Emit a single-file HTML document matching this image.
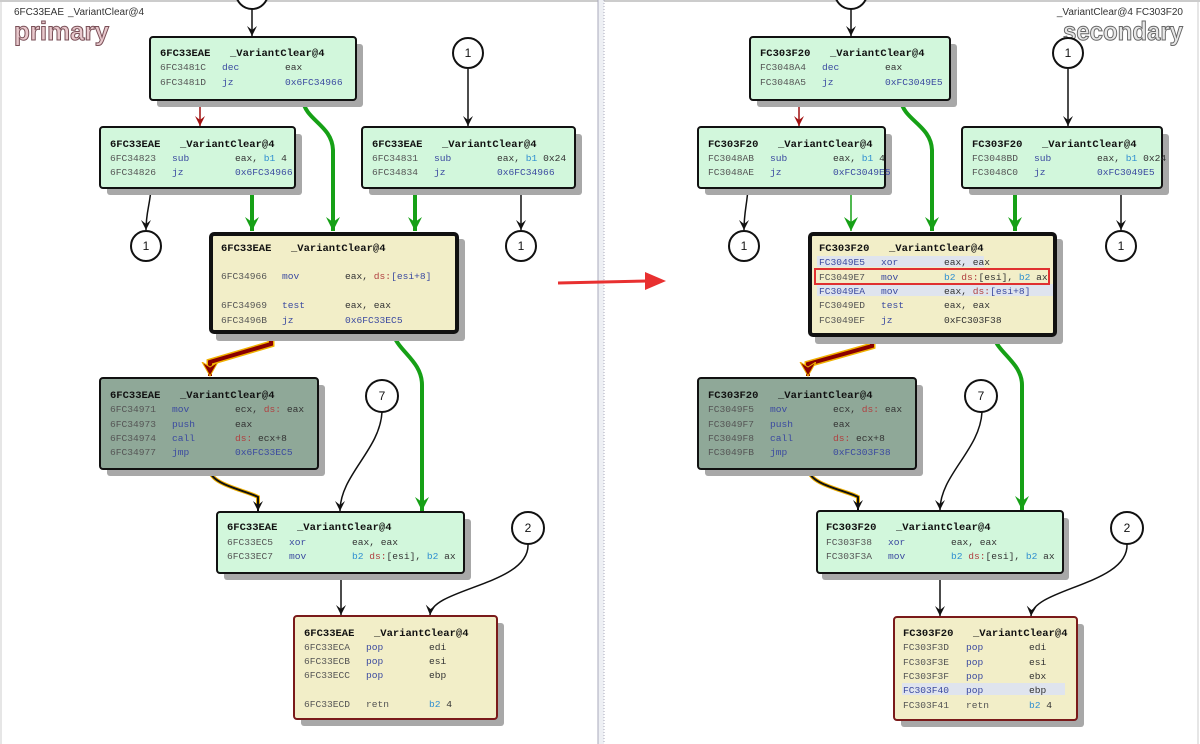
<!DOCTYPE html>
<html><head><meta charset="utf-8"><style>
html,body{margin:0;padding:0;background:#fff;width:1200px;height:744px;overflow:hidden}
svg{display:block}
.t{font-family:"Liberation Mono",monospace;font-size:9.6px;fill:#555}
.h{font-weight:bold;fill:#111;font-size:10.5px}
.m{fill:#3b4aa0}
.o{fill:#333}
.d{fill:#b04040}
.b{fill:#2f8fd0}
.n{font-family:"Liberation Sans",sans-serif;font-size:12px;fill:#111;text-anchor:middle}
</style></head><body>
<svg width="1200" height="744" viewBox="0 0 1200 744" xmlns="http://www.w3.org/2000/svg">
<defs>
<marker id="ab" markerWidth="12" markerHeight="12" refX="10" refY="5" orient="auto" markerUnits="userSpaceOnUse"><path d="M0,0 L10,5 L0,10 L4,5 Z" fill="#111"/></marker>
<marker id="ag" markerWidth="16" markerHeight="16" refX="14" refY="7" orient="auto" markerUnits="userSpaceOnUse"><path d="M0,0 L14,7 L0,14 L5,7 Z" fill="#16a016"/></marker>
<marker id="ar" markerWidth="12" markerHeight="12" refX="10" refY="5" orient="auto" markerUnits="userSpaceOnUse"><path d="M0,0 L10,5 L0,10 L4,5 Z" fill="#a01010"/></marker>
<marker id="adr" markerWidth="18" markerHeight="18" refX="14" refY="8" orient="auto" markerUnits="userSpaceOnUse"><path d="M0,0 L14,8 L0,16 L5,8 Z" fill="#8a0000" stroke="#f0b000" stroke-width="1"/></marker>
</defs>
<line x1="0" y1="1" x2="1200" y2="1" stroke="#999"/>
<rect x="598" y="0" width="6" height="744" fill="#eef0f4"/>
<line x1="598" y1="0" x2="598" y2="744" stroke="#aab"/>
<line x1="604" y1="0" x2="604" y2="744" stroke="#aab" stroke-dasharray="1,2"/>
<line x1="1" y1="0" x2="1" y2="744" stroke="#ccc"/>
<line x1="1198" y1="0" x2="1198" y2="744" stroke="#ccc"/>
<text x="14" y="15" font-family="Liberation Sans,sans-serif" font-size="10" fill="#333">6FC33EAE<tspan x="68">_VariantClear@4</tspan></text>
<text x="14" y="40" font-family="Liberation Sans,sans-serif" font-size="26" font-weight="bold" fill="#e8c8cc" stroke="#7a5058" stroke-width="1" textLength="95" lengthAdjust="spacingAndGlyphs">primary</text>
<text x="1183" y="15" font-family="Liberation Sans,sans-serif" font-size="10" fill="#333" text-anchor="end">_VariantClear@4  FC303F20</text>
<text x="1183" y="40" font-family="Liberation Sans,sans-serif" font-size="26" font-weight="bold" fill="#e8e8e8" stroke="#666" stroke-width="1" text-anchor="end" textLength="120" lengthAdjust="spacingAndGlyphs">secondary</text>
<path d="M558,283 L648,281" stroke="#e83030" stroke-width="3"/><path d="M645,272 L666,281 L645,290 Z" fill="#e83030"/>

<!-- LEFT EDGES -->
<g fill="none">
<circle cx="252" cy="-7" r="16" fill="#fff" stroke="#111" stroke-width="2"/>
<path d="M252,9 V36" stroke="#111" stroke-width="1.5" marker-end="url(#ab)"/>
<path d="M200,100 V126" stroke="#a01010" stroke-width="1.5" marker-end="url(#ar)"/>
<path d="M303,100 C305,120 332,125 333,150 V231" stroke="#16a016" stroke-width="4" marker-end="url(#ag)"/>
<path d="M468,69 V126" stroke="#111" stroke-width="1.5" marker-end="url(#ab)"/>
<path d="M151,188 C150,205 146,212 146,230" stroke="#111" stroke-width="1.5" marker-end="url(#ab)"/>
<path d="M252,188 V231" stroke="#16a016" stroke-width="4" marker-end="url(#ag)"/>
<path d="M415,188 V231" stroke="#16a016" stroke-width="4" marker-end="url(#ag)"/>
<path d="M521,188 V230" stroke="#111" stroke-width="1.5" marker-end="url(#ab)"/>
<path d="M271,334 V344 L210,362 V370" stroke="#f0b000" stroke-width="7"/>
<path d="M271,334 V344 L210,362 V376" stroke="#8a0000" stroke-width="4" marker-end="url(#adr)"/>
<path d="M394,336 C400,352 422,362 422,385 V511" stroke="#16a016" stroke-width="4" marker-end="url(#ag)"/>
<path d="M209,469 C211,485 245,490 258,497 V504" stroke="#f0b000" stroke-width="4"/>
<path d="M209,469 C211,485 245,490 258,497 V511" stroke="#111" stroke-width="2" marker-end="url(#ab)"/>
<path d="M382,412 C380,450 340,475 340,511" stroke="#111" stroke-width="1.5" marker-end="url(#ab)"/>
<path d="M341,573 V615" stroke="#111" stroke-width="1.5" marker-end="url(#ab)"/>
<path d="M528,544 C530,585 432,588 430,615" stroke="#111" stroke-width="1.5" marker-end="url(#ab)"/>
</g>
<g fill="#fff" stroke="#111" stroke-width="2">
<circle cx="468" cy="53" r="15"/><circle cx="146" cy="246" r="15"/><circle cx="521" cy="246" r="15"/><circle cx="382" cy="396" r="16"/><circle cx="528" cy="528" r="16"/>
</g>
<g class="n"><text x="468" y="57">1</text><text x="146" y="250">1</text><text x="521" y="250">1</text><text x="382" y="400">7</text><text x="528" y="532">2</text></g>

<!-- RIGHT EDGES -->
<g fill="none">
<circle cx="851" cy="-7" r="16" fill="#fff" stroke="#111" stroke-width="2"/>
<path d="M851,9 V36" stroke="#111" stroke-width="1.5" marker-end="url(#ab)"/>
<path d="M799,100 V126" stroke="#a01010" stroke-width="1.5" marker-end="url(#ar)"/>
<path d="M901,100 C903,120 931,125 932,150 V231" stroke="#16a016" stroke-width="4" marker-end="url(#ag)"/>
<path d="M1068,69 V126" stroke="#111" stroke-width="1.5" marker-end="url(#ab)"/>
<path d="M748,188 C747,205 744,212 744,230" stroke="#111" stroke-width="1.5" marker-end="url(#ab)"/>
<path d="M851,188 V231" stroke="#16a016" stroke-width="1.5" marker-end="url(#ag)"/>
<path d="M1015,188 V231" stroke="#16a016" stroke-width="4" marker-end="url(#ag)"/>
<path d="M1121,188 V230" stroke="#111" stroke-width="1.5" marker-end="url(#ab)"/>
<path d="M872,336 V346 L808,364 V370" stroke="#f0b000" stroke-width="7"/>
<path d="M872,336 V346 L808,364 V376" stroke="#8a0000" stroke-width="4" marker-end="url(#adr)"/>
<path d="M994,338 C1000,354 1022,364 1022,385 V510" stroke="#16a016" stroke-width="4" marker-end="url(#ag)"/>
<path d="M808,469 C810,485 845,490 858,497 V503" stroke="#f0b000" stroke-width="4"/>
<path d="M808,469 C810,485 845,490 858,497 V510" stroke="#111" stroke-width="2" marker-end="url(#ab)"/>
<path d="M982,412 C980,450 940,475 940,510" stroke="#111" stroke-width="1.5" marker-end="url(#ab)"/>
<path d="M940,573 V616" stroke="#111" stroke-width="1.5" marker-end="url(#ab)"/>
<path d="M1127,544 C1129,585 1033,588 1031,616" stroke="#111" stroke-width="1.5" marker-end="url(#ab)"/>
</g>
<g fill="#fff" stroke="#111" stroke-width="2">
<circle cx="1068" cy="53" r="15"/><circle cx="744" cy="246" r="15"/><circle cx="1121" cy="246" r="15"/><circle cx="981" cy="396" r="16"/><circle cx="1127" cy="528" r="16"/>
</g>
<g class="n"><text x="1068" y="57">1</text><text x="744" y="250">1</text><text x="1121" y="250">1</text><text x="981" y="400">7</text><text x="1127" y="532">2</text></g>

<!-- SHADOWS -->
<g fill="#a8a8a8">
<rect x="157" y="44" width="206" height="63" rx="3"/>
<rect x="107" y="134" width="195" height="61" rx="3"/>
<rect x="369" y="134" width="213" height="61" rx="3"/>
<rect x="216" y="239" width="249" height="102" rx="3"/>
<rect x="107" y="385" width="218" height="91" rx="3"/>
<rect x="224" y="519" width="247" height="61" rx="3"/>
<rect x="301" y="623" width="203" height="103" rx="3"/>
<rect x="757" y="44" width="200" height="63" rx="3"/>
<rect x="705" y="134" width="187" height="61" rx="3"/>
<rect x="969" y="134" width="200" height="61" rx="3"/>
<rect x="815" y="239" width="248" height="105" rx="3"/>
<rect x="705" y="385" width="218" height="91" rx="3"/>
<rect x="822" y="518" width="247" height="62" rx="3"/>
<rect x="901" y="624" width="183" height="103" rx="3"/>
</g>

<!-- NODES -->
<g stroke="#111" stroke-width="2">
<rect x="150" y="37" width="206" height="63" rx="3" fill="#d2f7dc"/>
<rect x="100" y="127" width="195" height="61" rx="3" fill="#d2f7dc"/>
<rect x="362" y="127" width="213" height="61" rx="3" fill="#d2f7dc"/>
<rect x="211" y="234" width="246" height="98" rx="3" fill="#f2eec8" stroke-width="4"/>
<rect x="100" y="378" width="218" height="91" rx="3" fill="#8fa898"/>
<rect x="217" y="512" width="247" height="61" rx="3" fill="#d2f7dc"/>
<rect x="294" y="616" width="203" height="103" rx="3" fill="#f2eec8" stroke="#7a1a1a"/>
<rect x="750" y="37" width="200" height="63" rx="3" fill="#d2f7dc"/>
<rect x="698" y="127" width="187" height="61" rx="3" fill="#d2f7dc"/>
<rect x="962" y="127" width="200" height="61" rx="3" fill="#d2f7dc"/>
<rect x="810" y="234" width="245" height="101" rx="3" fill="#f2eec8" stroke-width="4"/>
<rect x="698" y="378" width="218" height="91" rx="3" fill="#8fa898"/>
<rect x="817" y="511" width="246" height="62" rx="3" fill="#d2f7dc"/>
<rect x="894" y="617" width="183" height="103" rx="3" fill="#f2eec8" stroke="#7a1a1a"/>
</g>
<rect x="817" y="256" width="167" height="11" fill="#dfe4ee"/>
<rect x="817" y="284" width="236" height="12" fill="#dfe4ee"/>
<rect x="815" y="269" width="234" height="15" fill="none" stroke="#e03030" stroke-width="2"/>
<rect x="902" y="683" width="163" height="12" fill="#dfe4ee"/>

<!-- TEXT LEFT -->
<g class="t">
<text class="h" x="160" y="56">6FC33EAE<tspan x="230">_VariantClear@4</tspan></text>
<text x="160" y="70">6FC3481C<tspan class="m" x="222">dec</tspan><tspan class="o" x="285">eax</tspan></text>
<text x="160" y="85">6FC3481D<tspan class="m" x="222">jz</tspan><tspan class="m" x="285">0x6FC34966</tspan></text>

<text class="h" x="110" y="147">6FC33EAE<tspan x="180">_VariantClear@4</tspan></text>
<text x="110" y="161">6FC34823<tspan class="m" x="172">sub</tspan><tspan class="o" x="235">eax, </tspan><tspan class="b">b1</tspan><tspan class="o"> 4</tspan></text>
<text x="110" y="175">6FC34826<tspan class="m" x="172">jz</tspan><tspan class="m" x="235">0x6FC34966</tspan></text>

<text class="h" x="372" y="147">6FC33EAE<tspan x="442">_VariantClear@4</tspan></text>
<text x="372" y="161">6FC34831<tspan class="m" x="434">sub</tspan><tspan class="o" x="497">eax, </tspan><tspan class="b">b1</tspan><tspan class="o"> 0x24</tspan></text>
<text x="372" y="175">6FC34834<tspan class="m" x="434">jz</tspan><tspan class="m" x="497">0x6FC34966</tspan></text>

<text class="h" x="221" y="251">6FC33EAE<tspan x="291">_VariantClear@4</tspan></text>
<text x="221" y="279">6FC34966<tspan class="m" x="282">mov</tspan><tspan class="o" x="345">eax, </tspan><tspan class="d">ds:</tspan><tspan class="m">[esi+8]</tspan></text>
<text x="221" y="308">6FC34969<tspan class="m" x="282">test</tspan><tspan class="o" x="345">eax, eax</tspan></text>
<text x="221" y="323">6FC3496B<tspan class="m" x="282">jz</tspan><tspan class="m" x="345">0x6FC33EC5</tspan></text>

<text class="h" x="110" y="398">6FC33EAE<tspan x="180">_VariantClear@4</tspan></text>
<text x="110" y="412">6FC34971<tspan class="m" x="172">mov</tspan><tspan class="o" x="235">ecx, </tspan><tspan class="d">ds:</tspan><tspan class="o"> eax</tspan></text>
<text x="110" y="427">6FC34973<tspan class="m" x="172">push</tspan><tspan class="o" x="235">eax</tspan></text>
<text x="110" y="441">6FC34974<tspan class="m" x="172">call</tspan><tspan class="d" x="235">ds:</tspan><tspan class="o"> ecx+8</tspan></text>
<text x="110" y="455">6FC34977<tspan class="m" x="172">jmp</tspan><tspan class="m" x="235">0x6FC33EC5</tspan></text>

<text class="h" x="227" y="530">6FC33EAE<tspan x="297">_VariantClear@4</tspan></text>
<text x="227" y="545">6FC33EC5<tspan class="m" x="289">xor</tspan><tspan class="o" x="352">eax, eax</tspan></text>
<text x="227" y="559">6FC33EC7<tspan class="m" x="289">mov</tspan><tspan class="b" x="352">b2</tspan><tspan class="d"> ds:</tspan><tspan class="o">[esi], </tspan><tspan class="b">b2</tspan><tspan class="o"> ax</tspan></text>

<text class="h" x="304" y="636">6FC33EAE<tspan x="374">_VariantClear@4</tspan></text>
<text x="304" y="650">6FC33ECA<tspan class="m" x="366">pop</tspan><tspan class="o" x="429">edi</tspan></text>
<text x="304" y="664">6FC33ECB<tspan class="m" x="366">pop</tspan><tspan class="o" x="429">esi</tspan></text>
<text x="304" y="678">6FC33ECC<tspan class="m" x="366">pop</tspan><tspan class="o" x="429">ebp</tspan></text>
<text x="304" y="707">6FC33ECD<tspan x="366">retn</tspan><tspan class="b" x="429">b2</tspan><tspan class="o"> 4</tspan></text>
</g>

<!-- TEXT RIGHT -->
<g class="t">
<text class="h" x="760" y="56">FC303F20<tspan x="830">_VariantClear@4</tspan></text>
<text x="760" y="70">FC3048A4<tspan class="m" x="822">dec</tspan><tspan class="o" x="885">eax</tspan></text>
<text x="760" y="85">FC3048A5<tspan class="m" x="822">jz</tspan><tspan class="m" x="885">0xFC3049E5</tspan></text>

<text class="h" x="708" y="147">FC303F20<tspan x="778">_VariantClear@4</tspan></text>
<text x="708" y="161">FC3048AB<tspan class="m" x="770">sub</tspan><tspan class="o" x="833">eax, </tspan><tspan class="b">b1</tspan><tspan class="o"> 4</tspan></text>
<text x="708" y="175">FC3048AE<tspan class="m" x="770">jz</tspan><tspan class="m" x="833">0xFC3049E5</tspan></text>

<text class="h" x="972" y="147">FC303F20<tspan x="1042">_VariantClear@4</tspan></text>
<text x="972" y="161">FC3048BD<tspan class="m" x="1034">sub</tspan><tspan class="o" x="1097">eax, </tspan><tspan class="b">b1</tspan><tspan class="o"> 0x24</tspan></text>
<text x="972" y="175">FC3048C0<tspan class="m" x="1034">jz</tspan><tspan class="m" x="1097">0xFC3049E5</tspan></text>

<text class="h" x="819" y="251">FC303F20<tspan x="889">_VariantClear@4</tspan></text>
<text x="819" y="265"><tspan class="m">FC3049E5</tspan><tspan class="m" x="881">xor</tspan><tspan class="o" x="944">eax, eax</tspan></text>
<text x="819" y="280">FC3049E7<tspan class="m" x="881">mov</tspan><tspan class="b" x="944">b2</tspan><tspan class="d"> ds:</tspan><tspan class="o">[esi], </tspan><tspan class="b">b2</tspan><tspan class="o"> ax</tspan></text>
<text x="819" y="294"><tspan class="m">FC3049EA</tspan><tspan class="m" x="881">mov</tspan><tspan class="o" x="944">eax, </tspan><tspan class="d">ds:</tspan><tspan class="m">[esi+8]</tspan></text>
<text x="819" y="308">FC3049ED<tspan class="m" x="881">test</tspan><tspan class="o" x="944">eax, eax</tspan></text>
<text x="819" y="323">FC3049EF<tspan class="m" x="881">jz</tspan><tspan class="o" x="944">0xFC303F38</tspan></text>

<text class="h" x="708" y="398">FC303F20<tspan x="778">_VariantClear@4</tspan></text>
<text x="708" y="412">FC3049F5<tspan class="m" x="770">mov</tspan><tspan class="o" x="833">ecx, </tspan><tspan class="d">ds:</tspan><tspan class="o"> eax</tspan></text>
<text x="708" y="427">FC3049F7<tspan class="m" x="770">push</tspan><tspan class="o" x="833">eax</tspan></text>
<text x="708" y="441">FC3049F8<tspan class="m" x="770">call</tspan><tspan class="d" x="833">ds:</tspan><tspan class="o"> ecx+8</tspan></text>
<text x="708" y="455">FC3049FB<tspan class="m" x="770">jmp</tspan><tspan class="m" x="833">0xFC303F38</tspan></text>

<text class="h" x="826" y="530">FC303F20<tspan x="896">_VariantClear@4</tspan></text>
<text x="826" y="545">FC303F38<tspan class="m" x="888">xor</tspan><tspan class="o" x="951">eax, eax</tspan></text>
<text x="826" y="559">FC303F3A<tspan class="m" x="888">mov</tspan><tspan class="b" x="951">b2</tspan><tspan class="d"> ds:</tspan><tspan class="o">[esi], </tspan><tspan class="b">b2</tspan><tspan class="o"> ax</tspan></text>

<text class="h" x="903" y="636">FC303F20<tspan x="973">_VariantClear@4</tspan></text>
<text x="903" y="650">FC303F3D<tspan class="m" x="966">pop</tspan><tspan class="o" x="1029">edi</tspan></text>
<text x="903" y="665">FC303F3E<tspan class="m" x="966">pop</tspan><tspan class="o" x="1029">esi</tspan></text>
<text x="903" y="679">FC303F3F<tspan class="m" x="966">pop</tspan><tspan class="o" x="1029">ebx</tspan></text>
<text x="903" y="693"><tspan class="m">FC303F40</tspan><tspan class="m" x="966">pop</tspan><tspan class="o" x="1029">ebp</tspan></text>
<text x="903" y="708">FC303F41<tspan x="966">retn</tspan><tspan class="b" x="1029">b2</tspan><tspan class="o"> 4</tspan></text>
</g>
</svg>
</body></html>
